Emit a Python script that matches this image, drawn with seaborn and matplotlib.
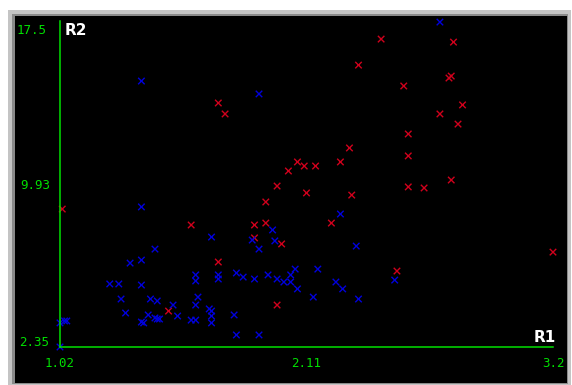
import matplotlib
matplotlib.use("Agg")
import matplotlib.pyplot as plt
from matplotlib.patches import Rectangle
import pandas as pd
import seaborn as sns

# red series (R1, R2)
red_r1 = [2.44, 2.76, 2.34, 2.74, 2.75, 2.54, 1.72, 1.75, 2.80, 2.70,
          2.78, 2.56, 2.30, 2.56, 2.07, 2.26, 2.10, 2.15, 2.03, 2.75,
          1.98, 2.56, 2.63, 2.11, 2.31, 1.93, 1.03, 2.22, 1.60, 1.88,
          1.93, 1.88, 2.00, 1.72, 3.20, 2.51, 1.98, 1.50]
red_r2 = [16.66, 16.52, 15.45, 14.85, 14.94, 14.48, 13.69, 13.18, 13.60, 13.18,
          12.71, 12.25, 11.60, 11.23, 10.95, 10.95, 10.76, 10.76, 10.53, 10.11,
          9.83, 9.79, 9.74, 9.51, 9.41, 9.09, 8.76, 8.11, 8.02, 8.02,
          8.11, 7.42, 7.14, 6.30, 6.76, 5.88, 4.30, 4.02]

# blue series (R1, R2)
blue_r1 = [2.70, 1.38, 1.90, 1.38, 2.26, 1.96, 1.69, 1.87, 1.97, 2.33,
           1.44, 1.90, 1.38, 1.33, 2.06, 2.16, 1.80, 1.94, 1.62, 1.72,
           2.04, 1.83, 1.72, 1.88, 1.98, 2.50, 1.62, 2.01, 2.04, 2.24,
           1.24, 1.28, 1.38, 2.07, 2.27, 1.63, 2.14, 2.34, 1.29, 1.42,
           1.45, 1.52, 1.62, 1.68, 1.69, 1.69, 1.69, 1.31, 1.41, 1.79,
           1.54, 1.44, 1.45, 1.46, 1.60, 1.62, 1.38, 1.39, 1.02, 1.04,
           1.05, 1.80, 1.90, 1.02]
blue_r2 = [17.45, 14.71, 14.11, 8.86, 8.53, 7.79, 7.46, 7.32, 7.28, 7.04,
           6.90, 6.90, 6.39, 6.25, 5.97, 5.97, 5.79, 5.70, 5.70, 5.70,
           5.70, 5.60, 5.51, 5.51, 5.51, 5.46, 5.42, 5.37, 5.37, 5.37,
           5.28, 5.28, 5.23, 5.05, 5.05, 4.67, 4.67, 4.58, 4.58, 4.58,
           4.49, 4.30, 4.30, 4.12, 4.02, 3.79, 3.47, 3.93, 3.84, 3.84,
           3.79, 3.70, 3.65, 3.65, 3.60, 3.60, 3.51, 3.47, 3.47, 3.56,
           3.56, 2.91, 2.91, 2.35]

x_ticks = [1.02, 2.11, 3.2]
x_labels = ["1.02", "2.11", "3.2"]
y_min, y_mid, y_max = 2.35, 9.93, 17.5

GREEN = "#00e000"
MONO = "DejaVu Sans Mono"

df = pd.DataFrame({
    "R1": red_r1 + blue_r1,
    "R2": red_r2 + blue_r2,
    "group": ["red"] * len(red_r1) + ["blue"] * len(blue_r1),
})

sns.set_style("white")
fig = plt.figure(figsize=(5.72, 3.85), dpi=100)
fig.patch.set_facecolor("white")

W, H = 572.0, 385.0
# window frame behind the plot
frame = [((8, 0, 563, 375), "#c4c4c4"),
         ((12, 1, 556, 370), "#8a8a8a"),
         ((15, 2, 552, 367), "black")]
for (x0, y0, w, h), col in frame:
    fig.add_artist(Rectangle((x0 / W, y0 / H), w / W, h / H, transform=fig.transFigure,
                             facecolor=col, edgecolor="none", zorder=-10))

ax = fig.add_axes([60 / W, 38 / H, 493 / W, 326 / H])
ax.set_facecolor("none")
ax.set_zorder(5)

sns.scatterplot(data=df, x="R1", y="R2", hue="group",
                palette={"red": "#d0001c", "blue": "#0000dc"},
                marker="x", s=22, linewidth=1.0, legend=False, ax=ax, clip_on=False)

ax.set_xlim(x_ticks[0], x_ticks[-1])
ax.set_ylim(y_min, y_max)
ax.set_xlabel("")
ax.set_ylabel("")

for side in ["top", "right"]:
    ax.spines[side].set_visible(False)
for side in ["left", "bottom"]:
    ax.spines[side].set_color(GREEN)
    ax.spines[side].set_linewidth(1.1)

ax.set_xticks(x_ticks)
ax.set_xticklabels(x_labels)
ax.set_yticks([y_mid])
ax.set_yticklabels(["9.93"])
ax.tick_params(axis="both", colors=GREEN, length=4, width=1, labelsize=9, pad=3)
for lab in ax.get_xticklabels() + ax.get_yticklabels():
    lab.set_family(MONO)
    lab.set_color(GREEN)
xt = ax.xaxis.get_major_ticks()
xt[0].tick1line.set_visible(False)
xt[-1].tick1line.set_visible(False)

ax.text(-0.027, y_max - 0.15, "17.5", transform=ax.get_yaxis_transform(), ha="right",
        va="top", color=GREEN, fontsize=9, family=MONO)
ax.text(-0.023, y_min + 0.2, "2.35", transform=ax.get_yaxis_transform(), ha="right",
        va="center", color=GREEN, fontsize=9, family=MONO)

ax.text(0.01, 0.97, "R2", transform=ax.transAxes, ha="left", va="center",
        color="white", fontsize=11, fontweight="bold")
ax.text(1.006, 0.03, "R1", transform=ax.transAxes, ha="right", va="center",
        color="white", fontsize=11, fontweight="bold")

fig.savefig("out.png", dpi=100, facecolor="white")
